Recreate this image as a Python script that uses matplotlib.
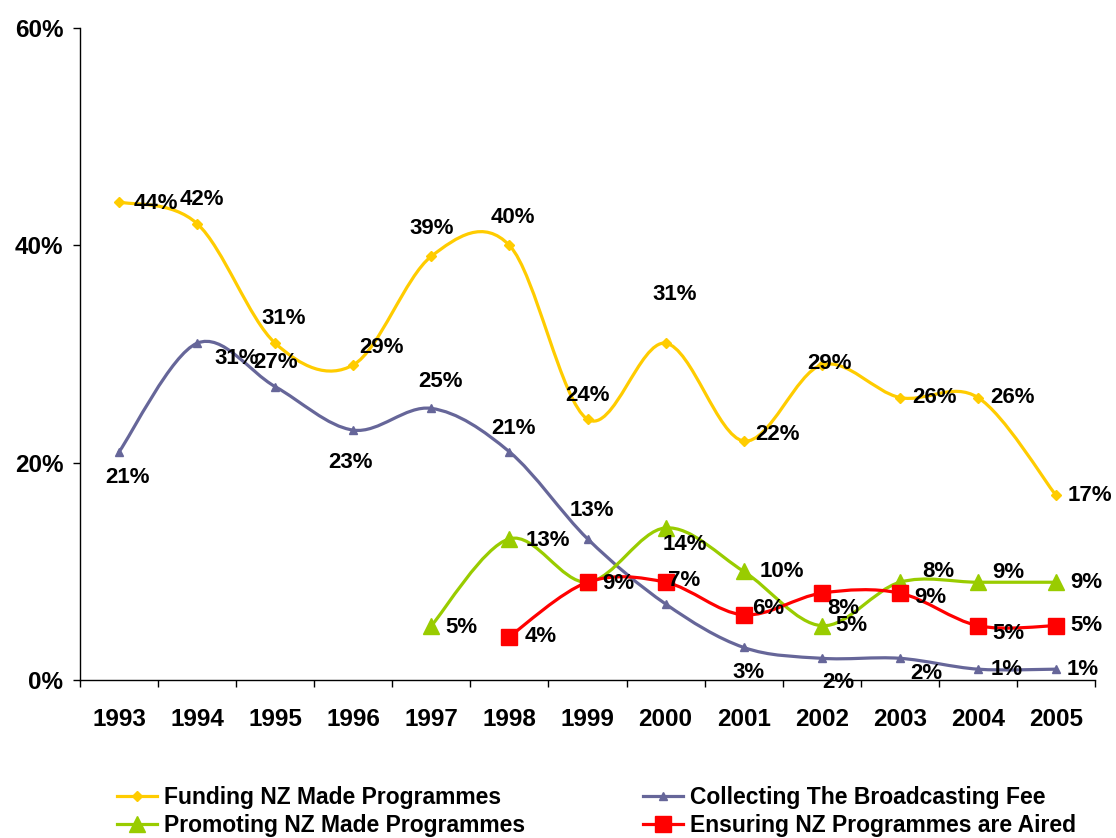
import numpy as np
import matplotlib
matplotlib.use("Agg")
import matplotlib.pyplot as plt
from matplotlib.path import Path
from matplotlib.patches import PathPatch
from matplotlib.ticker import FuncFormatter, FixedLocator

plt.rcParams['font.family'] = ['Liberation Sans', 'DejaVu Sans']
plt.rcParams['font.weight'] = 'bold'

# data (percent)
years = ['1993', '1994', '1995', '1996', '1997', '1998', '1999',
         '2000', '2001', '2002', '2003', '2004', '2005']
funding = [44, 42, 31, 29, 39, 40, 24, 31, 22, 29, 26, 26, 17]
collecting = [21, 31, 27, 23, 25, 21, 13, 7, 3, 2, 2, 1, 1]
promoting = [None, None, None, None, 5, 13, 9, 14, 10, 5, 9, 9, 9]
ensuring = [None, None, None, None, None, 4, 9, 9, 6, 8, 8, 5, 5]

series_names = ['Funding NZ Made Programmes', 'Collecting The Broadcasting Fee',
                'Promoting NZ Made Programmes', 'Ensuring NZ Programmes are Aired']

# label offsets in pixels (dx right, dy down), None = label hidden
funding_off = [(37, 2), (5, -24), (8, -25), (28, -17), (0, -28), (3, -28), (0, -24),
               (9, -49), (34, -6), (8, -1), (35, 0), (35, 0), (34, 0)]
collecting_off = [(8, 26), (40, 15), (0, -24), (-3, 32), (9, -27), (4, -23), (4, -28),
                  (19, -23), (5, 25), (17, 24), (26, 15), (29, 0), (27, 0)]
promoting_off = [None, None, None, None, (30, 2), (38, 2), (31, 1),
                 (19, 17), (38, 0), (30, 0), (30, 15), (30, -10), (30, 0)]
ensuring_off = [None, None, None, None, None, (31, 0), None,
                None, (25, -6), (22, 15), (38, -22), (30, 8), (30, 0)]

styles = [
    dict(color='#FFCC00', marker='D', ms=5, mec='#FFCC00'),
    dict(color='#666699', marker='^', ms=6, mec='#666699'),
    dict(color='#99CC00', marker='^', ms=12, mec='#99CC00'),
    dict(color='#FF0000', marker='s', ms=12, mec='#FF0000'),
]


def smooth_path(xs, ys):
    """Excel-like smoothed line as cubic bezier segments"""
    pts = np.column_stack([xs, ys]).astype(float)
    n = len(pts)
    verts = [pts[0]]
    codes = [Path.MOVETO]
    for i in range(n - 1):
        p0 = pts[i - 1] if i > 0 else pts[i]
        p1 = pts[i]
        p2 = pts[i + 1]
        p3 = pts[i + 2] if i + 2 < n else pts[i + 1]
        c1 = p1 + (p2 - p0) / 6.0
        c2 = p2 - (p3 - p1) / 6.0
        verts += [c1, c2, p2]
        codes += [Path.CURVE4] * 3
    return Path(verts, codes)


fig = plt.figure(figsize=(11.16, 8.38), dpi=100)
ax = fig.add_axes([0.0717, 0.1885, 0.9095, 0.778])

px = 72.0 / fig.dpi
all_series = [funding, collecting, promoting, ensuring]
all_offsets = [funding_off, collecting_off, promoting_off, ensuring_off]

handles = []
for k, (vals, offs, st) in enumerate(zip(all_series, all_offsets, styles)):
    xs = [i for i, v in enumerate(vals) if v is not None]
    ys = [vals[i] / 100.0 for i in xs]
    patch = PathPatch(smooth_path(xs, ys), facecolor='none', edgecolor=st['color'],
                      lw=2.3, zorder=2 + k, capstyle='round', joinstyle='round')
    ax.add_patch(patch)
    ax.plot(xs, ys, linestyle='none', marker=st['marker'], ms=st['ms'],
            color=st['color'], mec=st['mec'], zorder=2 + k)
    h, = ax.plot([], [], color=st['color'], lw=2.3, marker=st['marker'],
                 ms=st['ms'], mec=st['mec'])
    handles.append(h)
    for i in xs:
        if offs[i] is None:
            continue
        dx, dy = offs[i]
        ax.annotate(f"{vals[i]}%", (i, vals[i] / 100.0),
                    xytext=(dx * px, -dy * px), textcoords='offset points',
                    ha='center', va='center', fontsize=16, fontweight='bold',
                    color='black', zorder=10)

ax.set_xlim(-0.5, len(years) - 0.5)
ax.set_ylim(0, 0.6)
ax.set_xticks(range(len(years)))
ax.set_xticklabels(years)
ax.xaxis.set_minor_locator(FixedLocator(np.arange(-0.5, len(years), 1.0)))
ax.tick_params(axis='x', which='major', length=0, pad=20, labelsize=17.5)
ax.tick_params(axis='x', which='minor', length=5, width=1, direction='out')
ax.set_yticks([0, 0.2, 0.4, 0.6])
ax.yaxis.set_major_formatter(FuncFormatter(lambda v, _: f"{v * 100:.0f}%"))
ax.tick_params(axis='y', length=5, width=1, pad=7, labelsize=17.5)
for lab in ax.get_xticklabels() + ax.get_yticklabels():
    lab.set_fontweight('bold')

for side in ['top', 'right']:
    ax.spines[side].set_visible(False)
for side in ['left', 'bottom']:
    ax.spines[side].set_linewidth(1)
    ax.spines[side].set_color('black')

# legend is filled row by row in the reference, matplotlib fills columns
order = [0, 2, 1, 3]
fig.legend([handles[i] for i in order], [series_names[i] for i in order],
           loc='upper left', bbox_to_anchor=(0.1048, 0.0626),
           ncol=2, frameon=False, borderpad=0, borderaxespad=0, handlelength=1.75,
           handletextpad=0.3, columnspacing=5.15, labelspacing=0.25,
           prop={'size': 16.5, 'weight': 'bold'})

fig.savefig('out.png', dpi=100)
